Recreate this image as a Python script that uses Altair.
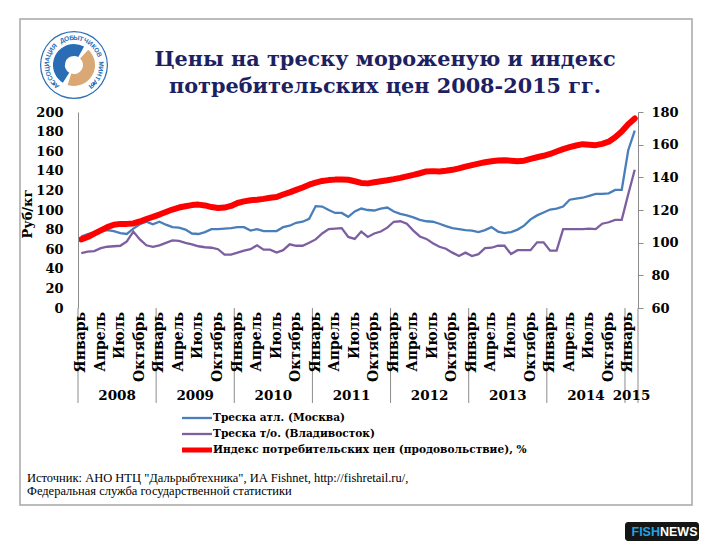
import altair as alt
import pandas as pd

# ---------------- data ----------------
title_lines = ["Цены на треску мороженую и индекс",
               "потребительских цен 2008-2015 гг."]
series_names = ["Треска атл. (Москва)",
                "Треска т/о. (Владивосток)",
                "Индекс потребительских цен (продовольствие), %"]
series_colors = ["#4A7EBB", "#7D5FA0", "#FF0000"]
quarter_labels = ["Январь", "Апрель", "Июль", "Октябрь"]
years = [2008, 2009, 2010, 2011, 2012, 2013, 2014, 2015]
n_months = 86  # январь 2008 - февраль 2015
left_ticks = [0, 20, 40, 60, 80, 100, 120, 140, 160, 180, 200]
right_ticks = [60, 80, 100, 120, 140, 160, 180]
y_title = "Руб/кг"
source_lines = ['Источник: АНО НТЦ "Дальрыбтехника", ИА Fishnet, http://fishretail.ru/,',
                "Федеральная служба государственной статистики"]
logo_text = "АССОЦИАЦИЯ ДОБЫТЧИКОВ МИНТАЯ"

moscow = [73, 75.5, 77, 78.5, 79.5, 78.5, 76.5, 75.5, 81, 85.5,
          88, 85.5, 88, 85, 82.5, 82, 80, 76, 75.5, 77.5,
          80.5, 80.5, 81, 81.5, 82.5, 82.5, 79, 80.5, 78.5, 78.5,
          78.5, 82.5, 84, 87, 88, 91, 104, 103.5, 100, 97,
          97, 93, 98.5, 101.5, 100, 99.5, 101.5, 102.5, 98.5, 96,
          94.5, 92.5, 90, 88.5, 88, 86, 83.5, 81.5, 80.5, 79.5,
          79, 77.5, 79.5, 82.5, 78, 76.5, 77.5, 80, 84, 90.5,
          94.5, 97.5, 100.5, 101.5, 103.5, 110.5, 111.5, 112.5, 114.5, 116.5,
          116.5, 117, 120.5, 120.5, 161, 181]
vladivostok = [56, 57.5, 58, 61, 62.5, 63, 63.5, 68, 78, 70,
               64, 62.5, 64, 66.5, 69, 68.5, 66.5, 65, 63, 62,
               61.5, 60, 54.5, 54.5, 56.5, 58.5, 60, 64, 59.5, 59.5,
               56.5, 59, 65, 63.5, 63.5, 66.5, 70, 76, 80.5, 81,
               81.5, 72.5, 70.5, 78, 72.5, 76, 78, 82, 88, 88.5,
               86, 79, 73, 70.5, 66, 62.5, 60.5, 56.5, 53, 56.5,
               53, 55, 61, 61.5, 63.5, 63.5, 55, 59, 59, 59,
               67, 67, 58.5, 58.5, 80.5, 80.5, 80.5, 80.5, 81, 80.5,
               86, 87.5, 90, 90, 116, 141]
cpi = [102, 103.5, 105.5, 107.5, 109.5, 111, 111.5, 111.5, 111.8, 113,
       114.5, 115.8, 117.2, 118.8, 120.3, 121.5, 122.3, 123, 123.3, 122.8,
       121.8, 121.2, 121.5, 122.5, 124.3, 125.3, 126, 126.3, 126.8, 127.5,
       128, 129.5, 130.8, 132.3, 133.8, 135.5, 136.8, 137.8, 138.3, 138.6,
       138.7, 138.5, 137.6, 136.6, 136.3, 137, 137.6, 138.2, 138.9, 139.7,
       140.6, 141.5, 142.5, 143.6, 143.8, 143.6, 144, 144.6, 145.5, 146.6,
       147.5, 148.4, 149.2, 149.8, 150.3, 150.5, 150.2, 149.8, 150.2, 151.3,
       152.3, 153.2, 154.3, 155.8, 157.3, 158.5, 159.5, 160.3, 160, 159.7,
       160.5, 161.8, 164.5, 168, 172.5, 176]

# ---------------- tables ----------------
idx = list(range(n_months))
lines_df = pd.DataFrame({
    "idx": idx * 2,
    "value": moscow + vladivostok,
    "series": [series_names[0]] * n_months + [series_names[1]] * n_months,
})
cpi_df = pd.DataFrame({"idx": idx, "cpi": cpi})
month_df = pd.DataFrame({
    "idx": [i for i in idx if i % 3 == 0],
    "label": [quarter_labels[(i % 12) // 3] for i in idx if i % 3 == 0],
})
year_centers = []
for k, yv in enumerate(years):
    first = 12 * k
    last = min(12 * k + 11, n_months - 1)
    year_centers.append((first + last) / 2)
year_df = pd.DataFrame({"year": [str(y) for y in years], "center": year_centers})
bounds_df = pd.DataFrame({"b": [12 * k - 0.5 for k in range(len(years))] + [n_months - 0.5]})
one = pd.DataFrame({"a": [0]})

W, H = 560, 196
SERIF = "DejaVu Serif"
TXT_SERIF = "Liberation Serif"
AX = "#8C8C8C"
xscale = alt.Scale(domain=[-0.5, n_months - 0.5], nice=False, zero=False)

frame = alt.Chart(one).mark_rect(fillOpacity=0, stroke="#A6A6A6", strokeWidth=1.5).encode(
    x=alt.value(-58), x2=alt.value(614), y=alt.value(-93), y2=alt.value(393))

left_lines = alt.Chart(lines_df).mark_line(strokeWidth=2.3).encode(
    x=alt.X("idx:Q", scale=xscale,
            axis=alt.Axis(labels=False, ticks=False, grid=False, title=None,
                          domainColor=AX, domainWidth=1, zindex=1)),
    y=alt.Y("value:Q", scale=alt.Scale(domain=[0, 200], nice=False),
            axis=alt.Axis(orient="left", values=left_ticks, grid=False, title=None,
                          labelFont=SERIF, labelFontSize=13, labelFontWeight="bold",
                          labelColor="black", ticks=False,
                          domainColor=AX, labelPadding=15, zindex=1)),
    color=alt.Color("series:N", scale=alt.Scale(domain=series_names[:2], range=series_colors[:2]),
                    legend=None),
)

red_line = alt.Chart(cpi_df).mark_line(strokeWidth=6, color=series_colors[2],
                                       strokeCap="round", strokeJoin="round").encode(
    x=alt.X("idx:Q", scale=xscale, axis=None),
    y=alt.Y("cpi:Q", scale=alt.Scale(domain=[60, 180], nice=False, zero=False),
            axis=alt.Axis(orient="right", values=right_ticks, grid=False, title=None,
                          labelFont=SERIF, labelFontSize=13, labelFontWeight="bold",
                          labelColor="black", tickSize=5, tickColor=AX,
                          domainColor=AX, labelPadding=8, zindex=1)),
)

months = alt.Chart(month_df).mark_text(angle=270, align="right", baseline="middle",
                                       font=SERIF, fontSize=14, fontWeight="bold",
                                       color="black").encode(
    x=alt.X("idx:Q", scale=xscale, axis=None), y=alt.value(H + 4), text="label:N")

year_labels = alt.Chart(year_df).mark_text(baseline="middle", font=SERIF, fontSize=13.5,
                                           fontWeight="bold", color="black").encode(
    x=alt.X("center:Q", scale=xscale, axis=None), y=alt.value(284), text="year:N")

seps = alt.Chart(bounds_df).mark_rule(color=AX, strokeWidth=1).encode(
    x=alt.X("b:Q", scale=xscale, axis=None), y=alt.value(H), y2=alt.value(291))

ytitle = alt.Chart(one).mark_text(angle=270, font=SERIF, fontSize=13, fontWeight="bold",
                                  color="black", baseline="middle", align="center").encode(
    x=alt.value(-50), y=alt.value(102), text=alt.value(y_title))

titles = []
for k, t in enumerate(title_lines):
    titles.append(alt.Chart(one).mark_text(font=SERIF, fontSize=20.8, fontWeight="bold",
                                           color="#1C2162", baseline="middle").encode(
        x=alt.value(307), y=alt.value(-52 + 27 * k), text=alt.value(t)))

legend_layers = []
widths = [2.3, 2.3, 5]
for k, name in enumerate(series_names):
    yy = 306 + 16 * k
    legend_layers.append(alt.Chart(one).mark_rule(color=series_colors[k], strokeWidth=widths[k]).encode(
        x=alt.value(104), x2=alt.value(134), y=alt.value(yy)))
    legend_layers.append(alt.Chart(one).mark_text(font=SERIF, fontSize=10.6, fontWeight="bold",
                                                  color="black", align="left", baseline="middle").encode(
        x=alt.value(135), y=alt.value(yy), text=alt.value(name)))

source_layers = []
for k, s in enumerate(source_lines):
    source_layers.append(alt.Chart(one).mark_text(font=TXT_SERIF, fontSize=12.5, color="black",
                                                  align="left", baseline="middle").encode(
        x=alt.value(-51), y=alt.value(365.5 + 13.5 * k), text=alt.value(s)))

# badge
badge = [
    alt.Chart(one).mark_rect(fill="#151515", cornerRadius=3).encode(
        x=alt.value(547), x2=alt.value(621), y=alt.value(410), y2=alt.value(429)),
    alt.Chart(one).mark_text(font="Liberation Sans", fontSize=12.5, fontWeight="bold",
                             color="#1FA3E6", align="right", baseline="middle").encode(
        x=alt.value(582), y=alt.value(419.5), text=alt.value("FISH")),
    alt.Chart(one).mark_text(font="Liberation Sans", fontSize=12.5, fontWeight="bold",
                             color="white", align="left", baseline="middle").encode(
        x=alt.value(582), y=alt.value(419.5), text=alt.value("NEWS")),
]

# logo (simplified)
LX, LY = -4, -47
logo_chars = pd.DataFrame({"ch": list(logo_text)})
logo_chars["k"] = range(len(logo_text))
n_ch = len(logo_text)
LOGO_BLUE = "#2A6DB5"
logo = [
    alt.Chart(one).mark_arc(radius=34, radius2=32.8, theta=0, theta2=6.2832, color=LOGO_BLUE).encode(
        x=alt.value(LX), y=alt.value(LY)),
    alt.Chart(one).mark_arc(radius=21, radius2=9, theta=3.7, theta2=6.2832, color=LOGO_BLUE).encode(
        x=alt.value(LX), y=alt.value(LY)),
    alt.Chart(one).mark_arc(radius=21, radius2=9, theta=0, theta2=0.5, color=LOGO_BLUE).encode(
        x=alt.value(LX), y=alt.value(LY)),
    alt.Chart(one).mark_arc(radius=21, radius2=9, theta=0.75, theta2=3.45, color="#D9A874").encode(
        x=alt.value(LX), y=alt.value(LY)),
    alt.Chart(one).mark_circle(size=8, color=LOGO_BLUE, opacity=1).encode(
        x=alt.value(LX - 20), y=alt.value(LY + 19)),
    alt.Chart(one).mark_circle(size=8, color=LOGO_BLUE, opacity=1).encode(
        x=alt.value(LX + 20), y=alt.value(LY + 19)),
    alt.Chart(logo_chars).transform_calculate(
        th=f"(-140 + 280 * datum.k / {n_ch - 1}) * PI / 180",
        ang=f"-140 + 280 * datum.k / {n_ch - 1}",
    ).mark_text(font="Liberation Sans", fontSize=6.5, fontWeight="bold", color=LOGO_BLUE,
                baseline="middle", align="center", radius=27).encode(
        x=alt.value(LX), y=alt.value(LY),
        theta=alt.Theta("th:Q", scale=None),
        angle=alt.Angle("ang:Q", scale=None), text="ch:N"),
]

chart = alt.layer(
    frame, *logo, *titles, left_lines, red_line, seps, months, year_labels, ytitle,
    *legend_layers, *source_layers, *badge
).resolve_scale(y="independent").properties(
    width=W, height=H,
    autosize=alt.AutoSizeParams(type="none"),
    padding={"left": 70, "top": 104, "right": 63, "bottom": 235},
    background="white",
).configure_view(stroke=None)

chart.save("out.html", embed_options={"renderer": "svg", "actions": False})
